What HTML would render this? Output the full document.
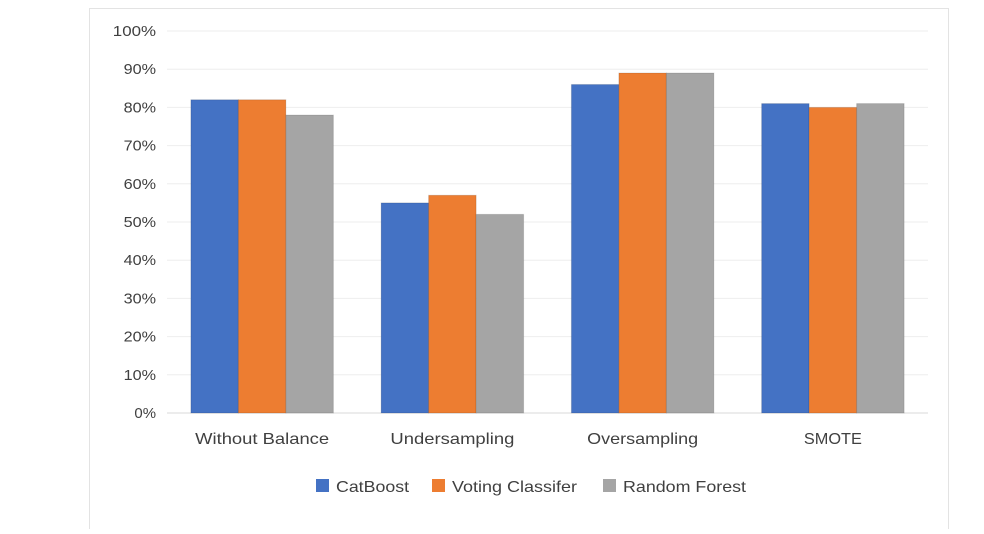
<!DOCTYPE html>
<html><head><meta charset="utf-8"><style>
body{margin:0;background:#fff;width:984px;height:529px;overflow:hidden;font-family:"Liberation Sans",sans-serif}
</style></head><body>
<svg id="c" width="984" height="529">
<rect x="89.5" y="8.5" width="859" height="530" fill="#fff" stroke="#e3e3e3"/>
</svg>
<script>
const categories=["Without Balance","Undersampling","Oversampling","SMOTE"];
const catboost=[82,55,86,81];
const voting=[82,57,89,80];
const rforest=[78,52,89,81];
const seriesNames=["CatBoost","Voting Classifer","Random Forest"];
const colors=["#4472c4","#ed7d31","#a5a5a5"];
const ticks=[0,10,20,30,40,50,60,70,80,90,100];
const svg=document.getElementById('c');const NS="http://www.w3.org/2000/svg";
const x0=167,x1=928,yb=413,yt=31;
const y=v=>yb-(v/100)*(yb-yt);
const gw=(x1-x0)/categories.length;
function mk(t,a,txt){const e=document.createElementNS(NS,t);for(const k in a)e.setAttribute(k,a[k]);if(txt!=null)e.textContent=txt;svg.appendChild(e);return e;}
ticks.forEach(t=>{
 const l=mk('line',{x1:x0,x2:x1,y1:y(t),y2:y(t),stroke:t===0?'#d9d9d9':'#eeeeee'});
 
 
 const s=String(t)+'%';
 const tx=mk('text',{x:156,y:y(t)+5,'text-anchor':'end','font-size':15,fill:'#404040',textLength:s.length*10.8,lengthAdjust:'spacingAndGlyphs'},s);
 
 
});
const series=[catboost,voting,rforest];
const bw=47.5;
const labelW=[134,124,111,58];
categories.forEach((c,i)=>{
 const cx=x0+gw*(i+0.5);
 series.forEach((s,j)=>{
  const bx=cx-1.5*bw+j*bw;
  const r=mk('rect',{x:bx,y:y(s[i]),width:bw,height:yb-y(s[i]),fill:colors[j],stroke:'rgba(0,0,0,0.12)','stroke-width':1});
  
  
 });
 const t=mk('text',{x:cx,y:444,'text-anchor':'middle','font-size':16,fill:'#404040',textLength:labelW[i],lengthAdjust:'spacingAndGlyphs'},c);
 
 
});
const lx=[316,432,603];
const legW=[73,125,123];
seriesNames.forEach((n,j)=>{
 const r=mk('rect',{x:lx[j],y:479,width:13,height:13,fill:colors[j]});
 
 
 const t=mk('text',{x:lx[j]+20,y:492,'font-size':16,fill:'#404040',textLength:legW[j],lengthAdjust:'spacingAndGlyphs'},n);
 
 
});
</script>
</body></html>
